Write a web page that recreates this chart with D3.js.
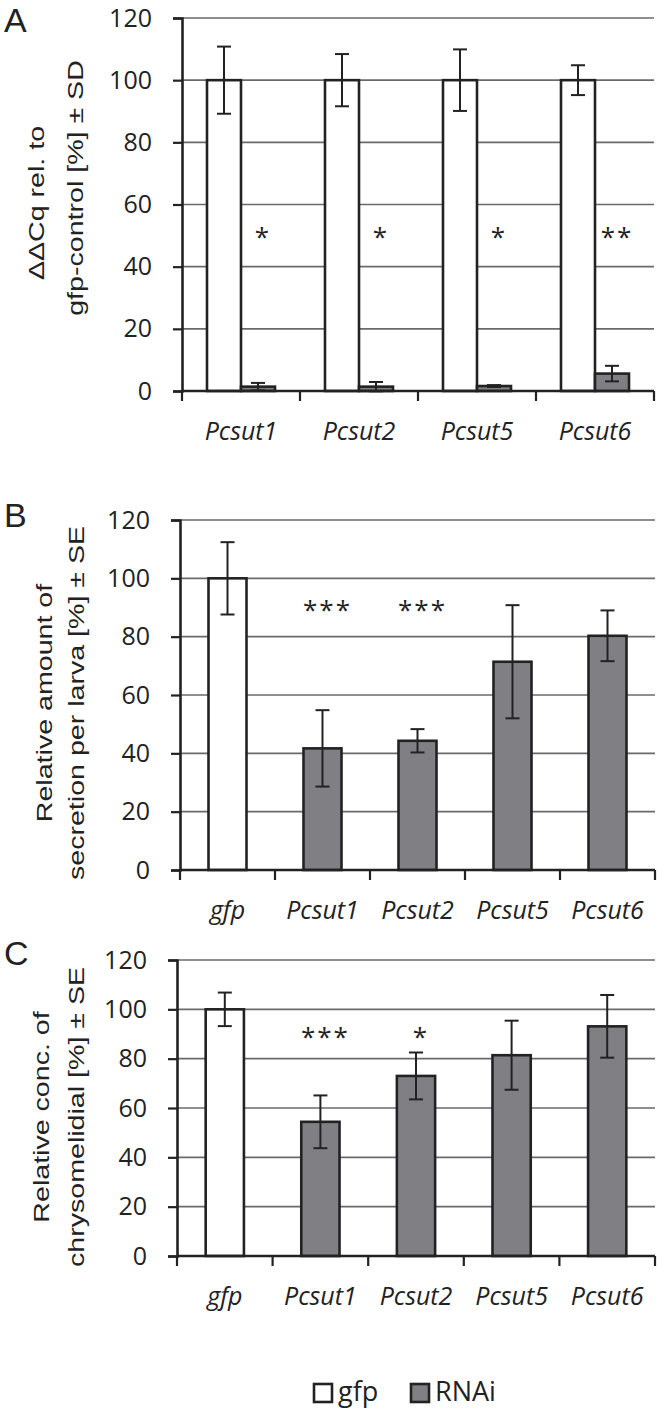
<!DOCTYPE html>
<html>
<head>
<meta charset="utf-8">
<script src="https://cdn.jsdelivr.net/npm/d3@7"></script>
<style>
  body { margin: 0; background: #fff; }
  svg { display: block; }
</style>
</head>
<body>
<div id="chart"></div>
<script>
// data
const genesA = ["Pcsut1", "Pcsut2", "Pcsut5", "Pcsut6"];
const gfpA = [100, 100, 100, 100];
const gfpSdA = [10.8, 8.4, 9.9, 4.8];
const rnaiA = [1.4, 1.4, 1.6, 5.6];
const rnaiSdA = [1.2, 1.5, 0.3, 2.5];
const starsA = ["*", "*", "*", "**"];

const groupsBC = ["gfp", "Pcsut1", "Pcsut2", "Pcsut5", "Pcsut6"];
const secretion = [100, 41.7, 44.3, 71.4, 80.3];
const secretionSe = [12.4, 13.1, 4.0, 19.4, 8.7];
const starsB = ["", "***", "***", "", ""];
const chrysomelidial = [100, 54.4, 73.0, 81.4, 93.1];
const chrysomelidialSe = [6.8, 10.7, 9.5, 14.0, 12.7];
const starsC = ["", "***", "*", "", ""];

const yTicks = [0, 20, 40, 60, 80, 100, 120];
const legendItems = ["gfp", "RNAi"];

const W = 664, H = 1412;
const GRAY = "#808084", INK = "#222";
const TICKFONT = "'Open Sans', sans-serif";
const LABELFONT = "'Liberation Sans', Arial, sans-serif";

const svg = d3.select("#chart").append("svg")
    .attr("width", W)
    .attr("height", H);

function drawPanel(cfg) {
    const g = svg.append("g");

    const y = d3.scaleLinear().domain([0, 120]).range([cfg.bottom, cfg.top]);
    const x = d3.scaleBand().domain(cfg.categories).range([cfg.left, cfg.right]).padding(0);

    // grid lines
    g.append("g").selectAll("line")
        .data(yTicks.filter(d => d > 0))
        .join("line")
            .attr("x1", cfg.left).attr("x2", cfg.right)
            .attr("y1", d => y(d)).attr("y2", d => y(d))
            .attr("stroke", "#6a6a6a")
            .attr("stroke-width", 1.6);

    // y axis
    const yAxis = g.append("g")
        .attr("transform", `translate(${cfg.left},0)`)
        .call(d3.axisLeft(y).tickValues(yTicks).tickSize(9).tickPadding(21));
    yAxis.select(".domain").attr("stroke", INK).attr("stroke-width", 2.6);
    yAxis.selectAll(".tick line").attr("stroke", INK).attr("stroke-width", 2.2);
    yAxis.selectAll(".tick text")
        .attr("fill", "#222")
        .style("font-family", TICKFONT)
        .style("font-size", "25px");

    // bars
    cfg.series.forEach(s => {
        const xs = cfg.sub ? cfg.sub : null;
        const bx = (d, i) => xs ? x(cfg.categories[i]) + xs(s.name) : x(cfg.categories[i]) + cfg.barOffset;
        const bw = xs ? xs.bandwidth() : cfg.barWidth;
        const bars = s.values.map((v, i) => ({v: v, e: s.err[i], i: i}))
            .filter(d => d.v != null);

        g.append("g").selectAll("rect")
            .data(bars)
            .join("rect")
                .attr("x", d => bx(d, d.i))
                .attr("y", d => y(d.v))
                .attr("width", bw)
                .attr("height", d => y(0) - y(d.v))
                .attr("fill", s.fill)
                .attr("stroke", INK)
                .attr("stroke-width", 2.6);

        const eb = g.append("g").attr("stroke", INK).attr("stroke-width", 2);
        bars.forEach(d => {
            const cx = bx(d, d.i) + bw / 2;
            eb.append("line").attr("x1", cx).attr("x2", cx)
                .attr("y1", y(d.v + d.e)).attr("y2", y(d.v - d.e));
            [d.v + d.e, d.v - d.e].forEach(t => {
                eb.append("line").attr("x1", cx - 7).attr("x2", cx + 7)
                    .attr("y1", y(t)).attr("y2", y(t));
            });
        });
    });

    // x axis with boundary ticks
    g.append("line")
        .attr("x1", cfg.left).attr("x2", cfg.right)
        .attr("y1", y(0)).attr("y2", y(0))
        .attr("stroke", INK).attr("stroke-width", 2.6);
    const edges = cfg.categories.map(c => x(c)).concat([cfg.right]);
    g.append("g").selectAll("line")
        .data(edges)
        .join("line")
            .attr("x1", d => d).attr("x2", d => d)
            .attr("y1", y(0)).attr("y2", y(0) + 10)
            .attr("stroke", INK).attr("stroke-width", 2.2);

    // category labels
    g.append("g").selectAll("text")
        .data(cfg.categories)
        .join("text")
            .attr("x", d => x(d) + x.bandwidth() / 2)
            .attr("y", cfg.bottom + 49)
            .attr("text-anchor", "middle")
            .attr("fill", "#222")
            .style("font-family", TICKFONT)
            .style("font-style", "italic")
            .style("font-size", "25px")
            .text(d => d);

    // significance stars
    g.append("g").selectAll("text")
        .data(cfg.stars.map((s, i) => ({s: s, i: i})).filter(d => d.s))
        .join("text")
            .attr("x", d => x(cfg.categories[d.i]) + cfg.starX + 5)
            .attr("y", y(cfg.starLevel) + 14)
            .attr("text-anchor", "middle")
            .attr("fill", "#222")
            .style("font-family", TICKFONT)
            .style("font-size", "26px")
            .style("letter-spacing", "2px")
            .text(d => d.s);

    // y label, two rotated lines
    cfg.ylabel.forEach(l => {
        g.append("text")
            .attr("transform", `translate(${l.x},${l.y}) rotate(-90) scale(1.3,1)`)
            .attr("text-anchor", "middle")
            .attr("fill", "#222")
            .style("font-family", LABELFONT)
            .style("font-size", "22px")
            .text(l.text);
    });

    // panel letter
    g.append("text")
        .attr("x", 4)
        .attr("y", cfg.letterY)
        .attr("fill", "#222")
        .style("font-family", LABELFONT)
        .style("font-size", "34px")
        .text(cfg.letter);
}

// panel A: grouped bars
const subA = d3.scaleBand().domain(legendItems).range([0, (654 - 182) / genesA.length])
    .paddingInner(0).paddingOuter(0.735);
drawPanel({
    letter: "A", letterY: 32,
    top: 18, bottom: 391, left: 182, right: 654,
    categories: genesA,
    sub: subA,
    series: [
        {name: "gfp", values: gfpA, err: gfpSdA, fill: "#fff"},
        {name: "RNAi", values: rnaiA, err: rnaiSdA, fill: GRAY}
    ],
    stars: starsA, starLevel: 51,
    starX: subA("RNAi") + subA.bandwidth() / 2,
    ylabel: [
        {text: "ΔΔCq rel. to", x: 44, y: 203},
        {text: "gfp-control [%] ± SD", x: 83, y: 188}
    ]
});

// panels B and C: one bar per category, first one is the gfp control
function splitSeries(vals, errs) {
    return [
        {name: "gfp", values: vals.map((v, i) => i === 0 ? v : null), err: errs, fill: "#fff"},
        {name: "RNAi", values: vals.map((v, i) => i === 0 ? null : v), err: errs, fill: GRAY}
    ];
}

const stepB = (655 - 180) / groupsBC.length;
drawPanel({
    letter: "B", letterY: 527,
    top: 520, bottom: 870, left: 180, right: 655,
    categories: groupsBC,
    barWidth: stepB * 0.4, barOffset: stepB * 0.3,
    series: splitSeries(secretion, secretionSe),
    stars: starsB, starLevel: 91, starX: stepB / 2,
    ylabel: [
        {text: "Relative amount of", x: 52, y: 703},
        {text: "secretion per larva [%] ± SE", x: 84, y: 703}
    ]
});

const stepC = (655 - 177) / groupsBC.length;
drawPanel({
    letter: "C", letterY: 965,
    top: 960, bottom: 1256, left: 177, right: 655,
    categories: groupsBC,
    barWidth: stepC * 0.4, barOffset: stepC * 0.3,
    series: splitSeries(chrysomelidial, chrysomelidialSe),
    stars: starsC, starLevel: 91, starX: stepC / 2,
    ylabel: [
        {text: "Relative conc. of", x: 49, y: 1117},
        {text: "chrysomelidial [%] ± SE", x: 84, y: 1117}
    ]
});

// legend
const legend = svg.append("g").attr("transform", "translate(313,1383)");
legendItems.forEach((name, i) => {
    const lg = legend.append("g").attr("transform", `translate(${i * 97},0)`);
    lg.append("rect")
        .attr("x", 1).attr("y", 1)
        .attr("width", 18).attr("height", 18)
        .attr("fill", i === 0 ? "#fff" : GRAY)
        .attr("stroke", INK).attr("stroke-width", 2.6);
    lg.append("text")
        .attr("x", 25).attr("y", 18)
        .attr("fill", "#222")
        .style("font-family", TICKFONT)
        .style("font-size", "27px")
        .text(name);
});
</script>
</body>
</html>
